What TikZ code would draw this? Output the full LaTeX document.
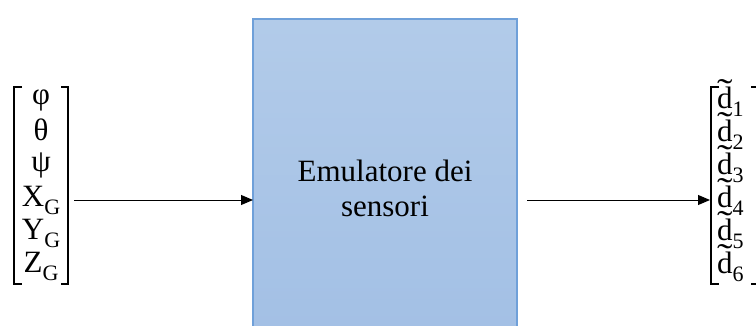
\documentclass[tikz,border=0pt]{standalone}
\usepackage{fontspec}
\usetikzlibrary{arrows.meta}
\setmainfont{Liberation Serif}
\newfontfamily\entryfont{Liberation Serif}
\definecolor{boxtop}{HTML}{B2CBE9}
\definecolor{boxbot}{HTML}{A3C0E5}
\definecolor{boxline}{HTML}{6FA0D9}
\newcommand{\mysub}[1]{\raisebox{-0.26em}{\fontsize{22}{22}\selectfont #1}}
\newcommand{\dtil}{\ooalign{d\cr\hidewidth\raisebox{0.19em}{\scalebox{1.5}[1.1]{\char"02DC}}\hidewidth\cr}}
\begin{document}
\begin{tikzpicture}[x=1pt,y=-1pt,
  entry/.style={font=\entryfont\fontsize{31}{31}\selectfont, inner sep=0pt, anchor=base},
  brk/.style={line width=1.6pt},
  arr/.style={line width=1pt, -{Triangle[length=12pt,width=10pt]}},
  emul/.style={draw=boxline, line width=1.5pt, top color=boxtop, bottom color=boxbot}]
\useasboundingbox (0,0) rectangle (756,325);
\clip (0,0) rectangle (756,325);
% box
\path[emul] (253,19) rectangle (517,330);
\coordinate (boxW) at (253,200);
\node[font=\fontsize{31}{35}\selectfont, align=center] (emu) at (385,188) {Emulatore dei\\sensori};
% left vector
\draw[brk] (22,87) -- (14,87) -- (14,284) -- (22,284);
\draw[brk] (61,87) -- (68,87) -- (68,284) -- (61,284);
\node[entry] (phi) at (41,104) {φ};
\node[entry] (th) at (41,140) {θ};
\node[entry] (psi) at (41,171) {ψ};
\node[entry] (xg) at (41,206) {X\mysub{G}};
\node[entry] (yg) at (41,239) {Y\mysub{G}};
\node[entry] (zg) at (41,272) {Z\mysub{G}};
\coordinate (inW) at (74,200);
% right vector
\draw[brk] (719,87) -- (711,87) -- (711,284) -- (719,284);
\draw[brk] (751,87) -- (760,87) -- (760,284) -- (751,284);
\node[entry, anchor=base west] (d1) at (717,108) {\dtil\mysub{1}};
\node[entry, anchor=base west] (d2) at (717,141) {\dtil\mysub{2}};
\node[entry, anchor=base west] (d3) at (717,174) {\dtil\mysub{3}};
\node[entry, anchor=base west] (d4) at (717,207) {\dtil\mysub{4}};
\node[entry, anchor=base west] (d5) at (717,240) {\dtil\mysub{5}};
\node[entry, anchor=base west] (d6) at (717,273) {\dtil\mysub{6}};
\coordinate (outE) at (710,200);
\coordinate (boxEo) at (527,200);
% arrows
\draw[arr] (inW) -- (boxW);
\draw[arr] (boxEo) -- (outE);
\end{tikzpicture}
\end{document}
